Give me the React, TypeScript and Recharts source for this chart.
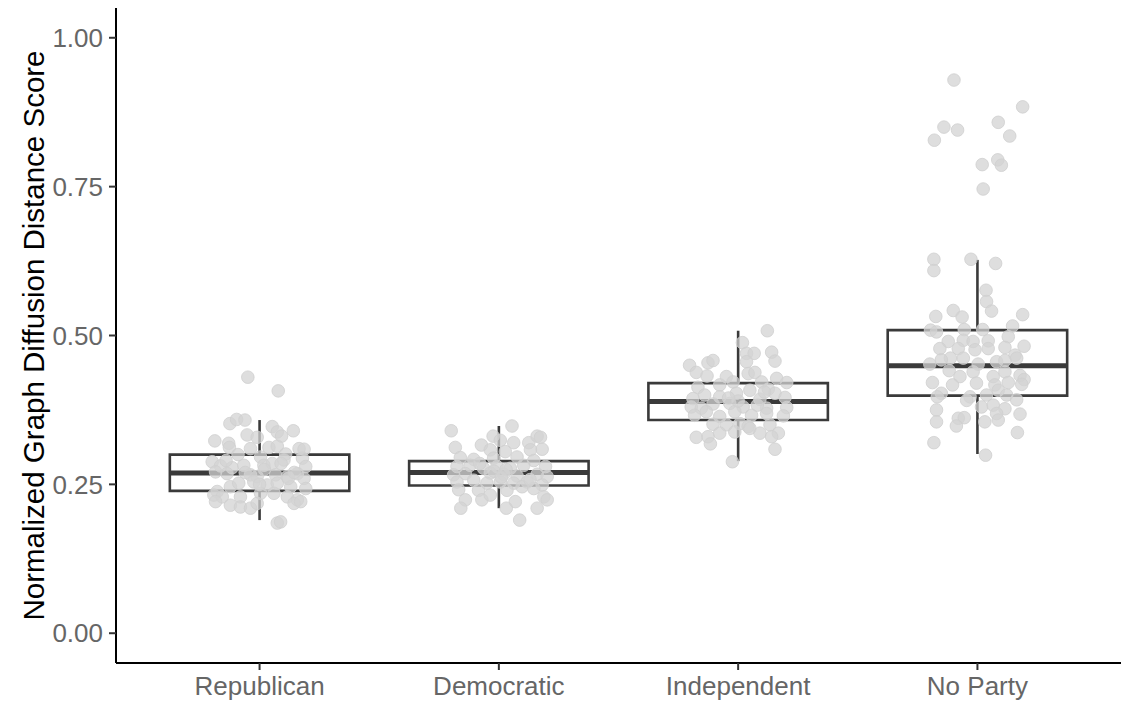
import React from 'react';
import { ComposedChart, Scatter, XAxis, YAxis } from 'recharts';

const categories = ['Republican', 'Democratic', 'Independent', 'No Party'];
const yTicks = [0, 0.25, 0.5, 0.75, 1.0];

// box statistics per category
const boxQ1 = [0.239, 0.248, 0.358, 0.399];
const boxMedian = [0.269, 0.27, 0.389, 0.449];
const boxQ3 = [0.3, 0.289, 0.42, 0.509];
const whiskerLow = [0.19, 0.21, 0.289, 0.301];
const whiskerHigh = [0.358, 0.348, 0.508, 0.627];
const boxWidth = 0.75;

// jittered observations (score, horizontal jitter offset)
const republicanScores = [0.43, 0.407, 0.352, 0.359, 0.358, 0.347, 0.338, 0.34, 0.331, 0.333, 0.329, 0.323, 0.319, 0.312, 0.31, 0.312, 0.314, 0.31, 0.309, 0.301, 0.296, 0.288, 0.281, 0.278, 0.282, 0.282, 0.285, 0.291, 0.294, 0.28, 0.271, 0.268, 0.266, 0.263, 0.266, 0.263, 0.268, 0.26, 0.238, 0.246, 0.252, 0.254, 0.249, 0.252, 0.246, 0.243, 0.232, 0.229, 0.229, 0.235, 0.235, 0.229, 0.224, 0.221, 0.215, 0.212, 0.21, 0.218, 0.218, 0.221, 0.185, 0.187, 0.275, 0.27, 0.285, 0.26, 0.29, 0.25, 0.27, 0.3];
const republicanJitter = [-0.049, 0.078, -0.124, -0.096, -0.061, 0.053, 0.074, 0.141, 0.092, -0.052, -0.01, -0.187, -0.129, -0.126, -0.038, 0.039, 0.074, 0.165, 0.186, 0.109, 0.004, -0.198, -0.163, -0.115, -0.066, 0.018, 0.053, 0.102, 0.179, 0.193, -0.184, -0.136, -0.038, -0.01, 0.067, 0.116, 0.158, 0.186, -0.177, -0.122, -0.087, -0.024, 0.032, 0.074, 0.13, 0.193, -0.191, -0.156, -0.08, 0.004, 0.06, 0.116, 0.158, -0.184, -0.122, -0.08, -0.038, -0.01, 0.144, 0.172, 0.074, 0.088, 0.02, -0.06, 0.09, 0.12, -0.14, 0.0, 0.145, -0.09];

const democraticScores = [0.34, 0.348, 0.312, 0.316, 0.331, 0.324, 0.32, 0.32, 0.331, 0.329, 0.309, 0.308, 0.308, 0.305, 0.295, 0.292, 0.294, 0.296, 0.29, 0.28, 0.282, 0.277, 0.28, 0.277, 0.282, 0.28, 0.266, 0.268, 0.269, 0.267, 0.264, 0.267, 0.263, 0.254, 0.257, 0.252, 0.254, 0.252, 0.254, 0.249, 0.241, 0.24, 0.24, 0.246, 0.243, 0.224, 0.224, 0.232, 0.221, 0.229, 0.224, 0.21, 0.21, 0.21, 0.19, 0.272, 0.275, 0.262, 0.285, 0.258];
const democraticJitter = [-0.199, 0.055, -0.182, -0.073, -0.024, 0.006, 0.062, 0.125, 0.16, 0.174, 0.181, 0.132, -0.036, 0.027, -0.161, -0.105, -0.022, 0.076, 0.146, -0.175, -0.12, -0.064, -0.008, 0.048, 0.104, 0.195, -0.189, -0.14, -0.036, 0.02, 0.076, 0.16, 0.202, -0.175, -0.105, -0.05, 0.006, 0.062, 0.118, 0.181, -0.168, -0.085, 0.034, 0.097, 0.146, -0.14, -0.071, -0.036, 0.069, 0.188, 0.202, -0.159, 0.031, 0.16, 0.087, -0.02, 0.03, 0.01, -0.08, 0.13];

const independentScores = [0.508, 0.488, 0.47, 0.47, 0.472, 0.457, 0.45, 0.454, 0.458, 0.456, 0.438, 0.432, 0.431, 0.436, 0.438, 0.428, 0.421, 0.413, 0.417, 0.422, 0.422, 0.41, 0.394, 0.4, 0.397, 0.403, 0.408, 0.393, 0.403, 0.396, 0.38, 0.378, 0.385, 0.386, 0.38, 0.378, 0.379, 0.366, 0.372, 0.364, 0.372, 0.366, 0.369, 0.365, 0.351, 0.35, 0.352, 0.347, 0.35, 0.336, 0.338, 0.344, 0.336, 0.336, 0.33, 0.329, 0.33, 0.318, 0.309, 0.288, 0.39, 0.395, 0.383, 0.405];
const independentJitter = [0.122, 0.018, 0.035, 0.067, 0.14, 0.154, -0.203, -0.126, -0.105, 0.035, -0.175, -0.13, -0.049, 0.042, 0.07, 0.161, 0.203, -0.168, -0.077, -0.021, 0.098, 0.126, -0.189, -0.14, -0.077, -0.007, 0.049, 0.091, 0.154, 0.196, -0.196, -0.154, -0.105, -0.035, 0.021, 0.119, 0.203, -0.182, -0.133, -0.077, -0.014, 0.056, 0.119, 0.189, -0.105, -0.049, 0.007, 0.042, 0.133, -0.077, -0.014, 0.049, 0.091, 0.168, 0.14, -0.175, -0.126, -0.116, 0.154, -0.024, 0.0, -0.04, 0.08, 0.11];

const noPartyScores = [0.929, 0.884, 0.85, 0.845, 0.828, 0.858, 0.835, 0.787, 0.795, 0.786, 0.746, 0.628, 0.609, 0.628, 0.621, 0.576, 0.557, 0.541, 0.532, 0.542, 0.531, 0.535, 0.516, 0.509, 0.506, 0.51, 0.51, 0.498, 0.49, 0.492, 0.49, 0.491, 0.478, 0.478, 0.476, 0.478, 0.48, 0.482, 0.467, 0.462, 0.462, 0.459, 0.462, 0.452, 0.452, 0.456, 0.458, 0.441, 0.439, 0.431, 0.439, 0.433, 0.431, 0.421, 0.417, 0.42, 0.417, 0.421, 0.426, 0.418, 0.403, 0.397, 0.391, 0.4, 0.408, 0.4, 0.392, 0.397, 0.38, 0.383, 0.377, 0.375, 0.369, 0.368, 0.361, 0.362, 0.358, 0.355, 0.355, 0.348, 0.337, 0.32, 0.299];
const noPartyJitter = [-0.098, 0.189, -0.14, -0.083, -0.18, 0.087, 0.135, 0.02, 0.085, 0.1, 0.024, -0.182, -0.182, -0.027, 0.076, 0.036, 0.038, 0.059, -0.174, -0.101, -0.064, 0.189, 0.147, -0.196, -0.171, -0.055, 0.022, 0.129, -0.122, -0.059, -0.018, 0.045, -0.157, -0.08, -0.01, 0.045, 0.115, 0.195, 0.157, -0.113, -0.059, -0.151, 0.164, -0.199, 0.003, 0.08, 0.115, -0.118, -0.018, 0.066, 0.115, 0.178, -0.073, -0.188, -0.104, -0.004, 0.073, 0.129, 0.195, 0.185, -0.151, -0.031, -0.045, 0.038, 0.087, 0.122, 0.164, -0.168, 0.017, 0.066, 0.115, -0.171, 0.08, 0.178, -0.08, -0.055, 0.087, 0.031, -0.171, -0.088, 0.167, -0.182, 0.034];

const groupScores = [republicanScores, democraticScores, independentScores, noPartyScores];
const groupJitter = [republicanJitter, democraticJitter, independentJitter, noPartyJitter];

const pointData = groupScores.flatMap((scores, g) =>
  scores.map((y, i) => ({ x: g + 1 + groupJitter[g][i], y }))
);

const boxOutlines = categories.map((_, g) => {
  const c = g + 1;
  const l = c - boxWidth / 2;
  const r = c + boxWidth / 2;
  return [
    { x: l, y: boxQ1[g] },
    { x: r, y: boxQ1[g] },
    { x: r, y: boxQ3[g] },
    { x: l, y: boxQ3[g] },
    { x: l, y: boxQ1[g] },
  ];
});
const medianLines = categories.map((_, g) => [
  { x: g + 1 - boxWidth / 2, y: boxMedian[g] },
  { x: g + 1 + boxWidth / 2, y: boxMedian[g] },
]);
const lowerWhiskers = categories.map((_, g) => [
  { x: g + 1, y: whiskerLow[g] },
  { x: g + 1, y: boxQ1[g] },
]);
const upperWhiskers = categories.map((_, g) => [
  { x: g + 1, y: boxQ3[g] },
  { x: g + 1, y: whiskerHigh[g] },
]);

const FONT = '"Liberation Sans", Arial, Helvetica, sans-serif';
const noShape = () => <g />;

const Dot = (p: any) => (
  <circle
    cx={p.cx}
    cy={p.cy}
    r={6.3}
    fill="#d3d3d3"
    fillOpacity={0.75}
    stroke="#cfcfcf"
    strokeOpacity={0.8}
    strokeWidth={1}
  />
);

const YTitle = (props: any) => {
  const vb = props.viewBox || {};
  return (
    <text
      x={33}
      y={vb.y + vb.height / 2}
      transform={`rotate(-90, 33, ${vb.y + vb.height / 2})`}
      textAnchor="middle"
      dominantBaseline="central"
      fontFamily={FONT}
      fontSize={29.5}
      fill="#000"
    >
      Normalized Graph Diffusion Distance Score
    </text>
  );
};

export default function App() {
  return (
    <div style={{ position: 'absolute', left: 0, top: 0, background: '#fff' }}>
      <ComposedChart width={1125} height={702} margin={{ top: 8, right: 4, bottom: 0, left: 0 }}>
        <XAxis
          type="number"
          dataKey="x"
          domain={[0.4, 4.6]}
          ticks={[1, 2, 3, 4]}
          allowDataOverflow
          tickFormatter={(v: number) => categories[Math.round(v) - 1]}
          height={39}
          axisLine={{ stroke: '#000', strokeWidth: 2 }}
          tickLine={{ stroke: '#333', strokeWidth: 2 }}
          tickSize={7}
          tickMargin={7}
          tick={{ fontFamily: FONT, fontSize: 26, fill: '#666' }}
          interval={0}
        />
        <YAxis
          type="number"
          dataKey="y"
          domain={[-0.05, 1.05]}
          ticks={yTicks}
          allowDataOverflow
          tickFormatter={(v: number) => v.toFixed(2)}
          width={116}
          axisLine={{ stroke: '#000', strokeWidth: 2 }}
          tickLine={{ stroke: '#333', strokeWidth: 2 }}
          tickSize={7}
          tickMargin={6}
          tick={{ fontFamily: FONT, fontSize: 26, fill: '#666' }}
          interval={0}
          label={<YTitle />}
        />
        {boxOutlines.map((d, g) => (
          <Scatter
            key={`box-${g}`}
            data={d}
            shape={noShape}
            line={{ stroke: '#3a3a3a', strokeWidth: 2.6, strokeLinecap: 'square', fill: 'none' }}
            isAnimationActive={false}
          />
        ))}
        {lowerWhiskers.map((d, g) => (
          <Scatter key={`lw-${g}`} data={d} shape={noShape} line={{ stroke: '#3a3a3a', strokeWidth: 2.6 }} isAnimationActive={false} />
        ))}
        {upperWhiskers.map((d, g) => (
          <Scatter key={`uw-${g}`} data={d} shape={noShape} line={{ stroke: '#3a3a3a', strokeWidth: 2.6 }} isAnimationActive={false} />
        ))}
        {medianLines.map((d, g) => (
          <Scatter key={`med-${g}`} data={d} shape={noShape} line={{ stroke: '#3a3a3a', strokeWidth: 5 }} isAnimationActive={false} />
        ))}
        <Scatter data={pointData} shape={Dot} isAnimationActive={false} />
      </ComposedChart>
    </div>
  );
}
